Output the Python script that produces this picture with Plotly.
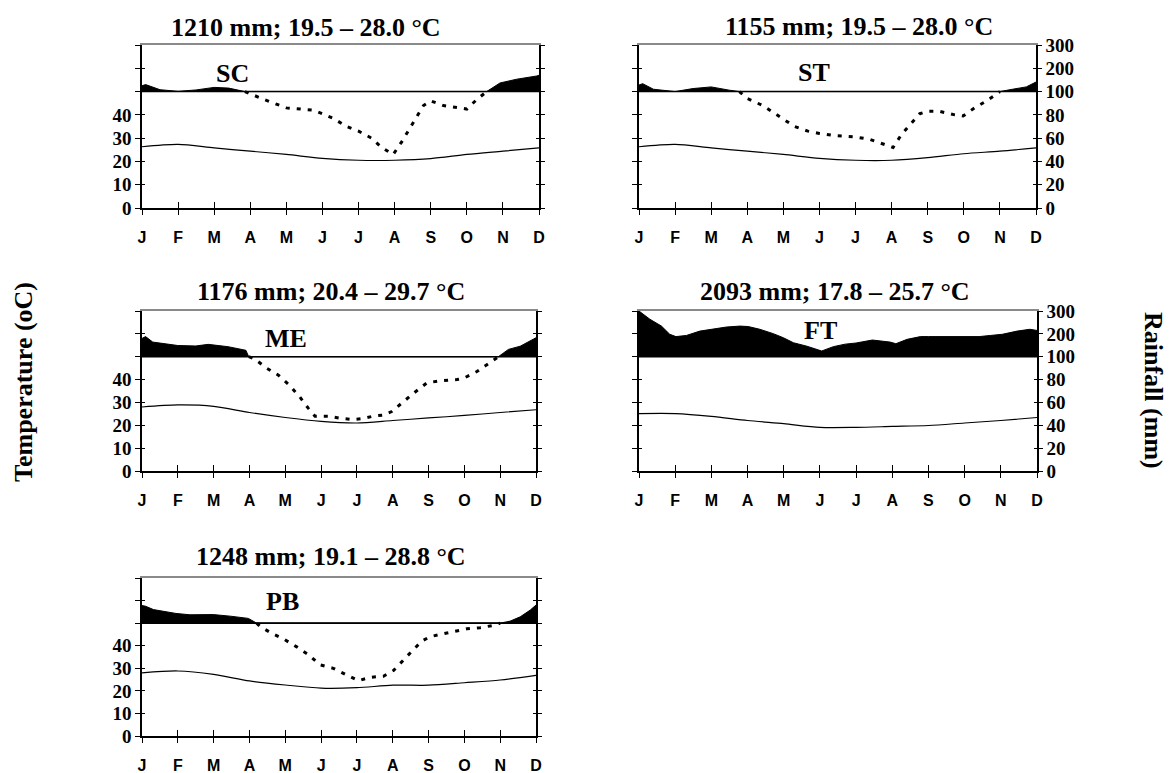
import plotly.graph_objects as go

W, H = 1170, 773

# ---------------- data ----------------
months = ["J", "F", "M", "A", "M", "J", "J", "A", "S", "O", "N", "D"]
month_pos = [0, 1, 2, 3, 4, 5, 6, 7, 8, 9, 10, 11]

stations = ["SC", "ST", "ME", "FT", "PB"]
titles = ["1210 mm; 19.5 – 28.0 °C", "1155 mm; 19.5 – 28.0 °C",
          "1176 mm; 20.4 – 29.7 °C", "2093 mm; 17.8 – 25.7 °C",
          "1248 mm; 19.1 – 28.8 °C"]

temp_tick_values = [0, 10, 20, 30, 40]
rain_tick_values = [0, 20, 40, 60, 80, 100, 200, 300]

# monthly mean temperature (°C)
sc_temp = [26.3, 27.3, 25.8, 24.4, 23.0, 21.3, 20.5, 20.5, 21.2, 23.0, 24.4, 25.8]
st_temp = [26.3, 27.3, 25.8, 24.4, 23.0, 21.3, 20.5, 20.5, 21.6, 23.3, 24.4, 25.8]
me_temp = [28.0, 28.9, 28.3, 25.6, 23.4, 21.7, 21.0, 22.1, 23.2, 24.3, 25.6, 26.8]
ft_temp = [25.1, 25.1, 23.9, 22.1, 20.7, 19.1, 19.1, 19.5, 19.9, 21.0, 22.1, 23.4]
pb_temp = [28.0, 28.8, 27.3, 24.4, 22.6, 21.2, 21.4, 22.5, 22.5, 23.6, 24.8, 26.9]

# rainfall (mm), read along the year (month index)
sc_rain_x = [0, 0.1, 0.5, 1.0, 1.5, 2.0, 2.4, 2.85, 3.0, 3.4, 4.0, 4.75, 5.0, 5.3, 5.67, 6.0,
             6.36, 6.64, 6.96, 7.2, 7.43, 7.63, 7.8, 8.0, 8.35, 8.8, 9.0, 9.27, 9.55, 9.92,
             10.38, 10.94, 11]
sc_rain_mm = [125, 130, 108, 101, 107, 118, 115, 100, 98, 93, 86, 84, 81, 77, 70, 66,
              60, 52, 46, 57, 69, 79, 88, 92, 88, 86, 85, 93, 100, 137,
              153, 167, 170]

st_rain_x = [0, 0.1, 0.4, 0.8, 1.0, 1.5, 2.0, 2.5, 2.78, 3.0, 3.43, 3.67, 4.0, 4.31, 4.68,
             5.0, 5.5, 6.0, 6.39, 6.76, 7.04, 7.27, 7.5, 7.78, 8.0, 8.33, 8.75, 8.98, 9.3,
             9.63, 10.0, 10.35, 10.73, 11]
st_rain_mm = [128, 134, 110, 102, 100, 113, 120, 106, 100, 94, 88, 83, 76, 70, 66,
              64, 62, 61, 59, 55, 52, 63, 71, 81, 83, 83, 80, 79, 86,
              92, 100, 110, 120, 141]

me_rain_x = [0, 0.1, 0.3, 0.7, 1.0, 1.5, 1.85, 2.4, 2.75, 2.9, 2.98, 3.15, 3.48, 3.8, 4.12,
             4.4, 4.64, 4.83, 5.2, 5.57, 5.9, 6.18, 6.46, 6.74, 6.97, 7.3, 7.58, 7.95, 8.32,
             8.79, 8.97, 9.35, 9.67, 9.95, 10.23, 10.56, 11]
me_rain_mm = [180, 188, 164, 154, 149, 147, 154, 144, 135, 128, 100, 98, 90, 84, 75,
              65, 55, 48, 48, 46, 45, 46, 48, 49, 52, 61, 68, 77, 79,
              80, 81, 87, 94, 100, 132, 146, 183]

ft_rain_x = [0, 0.3, 0.62, 0.85, 1.02, 1.31, 1.68, 1.96, 2.42, 2.79, 3.02, 3.34, 3.71, 3.99,
             4.27, 4.64, 5.05, 5.37, 5.7, 6.0, 6.45, 6.94, 7.1, 7.41, 7.78, 8.0, 8.6, 9.0,
             9.4, 9.71, 10.04, 10.45, 10.8, 11]
ft_rain_mm = [300, 264, 234, 198, 188, 193, 212, 220, 230, 234, 232, 220, 201, 183,
              161, 146, 125, 144, 155, 160, 173, 164, 157, 176, 188, 188, 188, 188,
              188, 193, 198, 212, 220, 215]

pb_rain_x = [0, 0.1, 0.32, 0.95, 1.34, 1.99, 2.46, 2.97, 3.2, 3.3, 3.62, 3.95, 4.32, 4.65,
             4.97, 5.34, 5.72, 6.04, 6.37, 6.74, 7.02, 7.25, 7.53, 7.81, 8.04, 8.32, 8.79,
             9.07, 9.44, 9.81, 10.0, 10.28, 10.56, 10.84, 11]
pb_rain_mm = [178, 175, 160, 143, 137, 138, 131, 121, 100, 97, 91, 86, 79, 72,
              63, 60, 54, 49, 52, 53, 58, 66, 75, 84, 88, 90, 93,
              95, 96, 98, 100, 109, 128, 158, 180]

temps = {"SC": sc_temp, "ST": st_temp, "ME": me_temp, "FT": ft_temp, "PB": pb_temp}
rains = {"SC": (sc_rain_x, sc_rain_mm), "ST": (st_rain_x, st_rain_mm),
         "ME": (me_rain_x, me_rain_mm), "FT": (ft_rain_x, ft_rain_mm),
         "PB": (pb_rain_x, pb_rain_mm)}


# Walter-Lieth rainfall scale: 20 mm = 10 °C up to 100 mm, compressed 1:10 above
def wl(r):
    return r / 2.0 if r <= 100 else 50.0 + (r - 100) / 10.0


# ---------------- layout geometry (pixels) ----------------
boxes = {  # left, right, top, bottom
    "SC": (142, 539, 45, 208),
    "ST": (639, 1036, 45, 208),
    "ME": (142, 536, 311, 471),
    "FT": (639, 1037, 311, 471),
    "PB": (142, 536, 578, 736),
}
title_pos = {"SC": (306, 27), "ST": (859, 26), "ME": (331, 291), "FT": (835, 291), "PB": (331, 556)}
label_pos = {"SC": (233, 73), "ST": (814, 72), "ME": (286, 338), "FT": (821, 330), "PB": (282, 601)}
left_labels = {"SC": True, "ST": False, "ME": True, "FT": False, "PB": True}

SERIF = "Liberation Serif"
SANS = "Liberation Sans"
Y_TOP = wl(300)

tickvals = [wl(r) for r in rain_tick_values]
left_text = [str(int(v)) if int(v) in temp_tick_values else "" for v in tickvals]
right_text = [str(r) for r in rain_tick_values]


def xn(n):
    return "x" if n == 1 else f"x{n}"


def yn(n):
    return "y" if n == 1 else f"y{n}"


def xk(n):
    return "xaxis" if n == 1 else f"xaxis{n}"


def yk(n):
    return "yaxis" if n == 1 else f"yaxis{n}"


fig = go.Figure()
lay = {}
annotations = []

for i, st in enumerate(stations):
    L, R, T, B = boxes[st]
    dx = [L / W, R / W]
    dy = [1 - B / H, 1 - T / H]
    xm, xi, xt = 3 * i + 1, 3 * i + 2, 3 * i + 3
    yl, yli, yr, yri = 4 * i + 1, 4 * i + 2, 4 * i + 3, 4 * i + 4

    rx, rmm = rains[st]
    base = [wl(100) for _ in rx]
    fill_top = [max(wl(r), wl(100)) for r in rmm]
    dry = [wl(r) if r <= 100 else None for r in rmm]

    fig.add_trace(go.Scatter(x=rx, y=base, mode="lines", line=dict(width=0, color="black"),
                             hoverinfo="skip", showlegend=False,
                             xaxis=xn(xm), yaxis=yn(yl)))
    fig.add_trace(go.Scatter(x=rx, y=fill_top, mode="lines", fill="tonexty",
                             fillcolor="black", line=dict(width=1, color="black"),
                             hoverinfo="skip", showlegend=False,
                             xaxis=xn(xm), yaxis=yn(yl)))
    fig.add_trace(go.Scatter(x=[month_pos[0], month_pos[-1]], y=[wl(100), wl(100)],
                             mode="lines", line=dict(width=1.6, color="black"),
                             hoverinfo="skip", showlegend=False,
                             xaxis=xn(xm), yaxis=yn(yl)))
    fig.add_trace(go.Scatter(x=rx, y=dry, mode="lines", connectgaps=False,
                             line=dict(width=3, color="black", dash="4px,7px"),
                             hoverinfo="skip", showlegend=False,
                             xaxis=xn(xm), yaxis=yn(yl)))
    fig.add_trace(go.Scatter(x=month_pos, y=temps[st], mode="lines",
                             line=dict(width=1.2, color="black", shape="spline", smoothing=0.8),
                             hoverinfo="skip", showlegend=False,
                             xaxis=xn(xm), yaxis=yn(yl)))
    # invisible companions so that the overlay axes (tick halves, border, right scale) are drawn
    for ax_x, ax_y in [(xi, yl), (xt, yl), (xm, yli), (xm, yr), (xm, yri)]:
        fig.add_trace(go.Scatter(x=month_pos, y=temps[st], mode="lines", opacity=0,
                                 line=dict(width=0, color="white"),
                                 hoverinfo="skip", showlegend=False,
                                 xaxis=xn(ax_x), yaxis=yn(ax_y)))

    common = dict(showgrid=False, zeroline=False, automargin=False)
    # bottom month axis
    lay[xk(xm)] = dict(domain=dx, anchor=yn(yl), range=[0, 11], tickmode="array",
                       tickvals=month_pos, ticktext=months, ticks="outside", ticklen=5,
                       tickwidth=1.3, tickcolor="black", showline=True, linecolor="black",
                       linewidth=1.5, ticklabelstandoff=9,
                       tickfont=dict(family=SANS, size=16, color="black", weight="bold"),
                       **common)
    # inside half of the bottom ticks
    lay[xk(xi)] = dict(domain=dx, anchor=yn(yl), overlaying=xn(xm), range=[0, 11],
                       tickmode="array", tickvals=month_pos, ticks="inside", ticklen=6,
                       tickwidth=1.3, tickcolor="black", showticklabels=False,
                       showline=False, **common)
    # thin grey top border
    lay[xk(xt)] = dict(domain=dx, anchor=yn(yl), overlaying=xn(xm), side="top",
                       range=[0, 11], ticks="", showticklabels=False, showline=True,
                       linecolor="#8a8a8a", linewidth=1.5, **common)
    # left temperature axis
    lay[yk(yl)] = dict(domain=dy, anchor=xn(xm), range=[0, Y_TOP], tickmode="array",
                       tickvals=tickvals,
                       ticktext=left_text if left_labels[st] else [""] * len(tickvals),
                       ticks="outside", ticklen=5, tickwidth=1.3, tickcolor="black",
                       showline=True, linecolor="black", linewidth=1.5,
                       ticklabelstandoff=0,
                       tickfont=dict(family=SERIF, size=19, color="black", weight="bold"),
                       **common)
    lay[yk(yli)] = dict(domain=dy, anchor=xn(xm), overlaying=yn(yl), range=[0, Y_TOP],
                        tickmode="array", tickvals=tickvals, ticks="inside", ticklen=3,
                        tickwidth=1.3, tickcolor="black", showticklabels=False,
                        showline=False, **common)
    # right rainfall axis
    lay[yk(yr)] = dict(domain=dy, anchor=xn(xm), overlaying=yn(yl), side="right",
                       range=[0, Y_TOP], tickmode="array", tickvals=tickvals,
                       ticktext=right_text if not left_labels[st] else [""] * len(tickvals),
                       ticks="outside", ticklen=4, tickwidth=1.3, tickcolor="black",
                       showline=True, linecolor="black", linewidth=1.5,
                       ticklabelstandoff=0,
                       tickfont=dict(family=SERIF, size=19, color="black", weight="bold"),
                       **common)
    lay[yk(yri)] = dict(domain=dy, anchor=xn(xm), overlaying=yn(yl), side="right",
                        range=[0, Y_TOP], tickmode="array", tickvals=tickvals,
                        ticks="inside", ticklen=3, tickwidth=1.3, tickcolor="black",
                        showticklabels=False, showline=False, **common)

    tx, ty = title_pos[st]
    annotations.append(dict(text=titles[i], x=tx / W, y=1 - ty / H, xref="paper",
                            yref="paper", xanchor="center", yanchor="middle",
                            showarrow=False,
                            font=dict(family=SERIF, size=26, color="black", weight="bold")))
    lx, ly = label_pos[st]
    annotations.append(dict(text=st, x=lx / W, y=1 - ly / H, xref="paper", yref="paper",
                            xanchor="center", yanchor="middle", showarrow=False,
                            font=dict(family=SERIF, size=26, color="black", weight="bold")))

annotations.append(dict(text="Temperature (oC)", x=24 / W, y=1 - 382 / H, xref="paper",
                        yref="paper", xanchor="center", yanchor="middle", textangle=-90,
                        showarrow=False,
                        font=dict(family=SERIF, size=26, color="black", weight="bold")))
annotations.append(dict(text="Rainfall (mm)", x=1153 / W, y=1 - 390 / H, xref="paper",
                        yref="paper", xanchor="center", yanchor="middle", textangle=90,
                        showarrow=False,
                        font=dict(family=SERIF, size=26, color="black", weight="bold")))

fig.update_layout(template="none", width=W, height=H, autosize=False,
                  margin=dict(l=0, r=0, t=0, b=0, pad=0, autoexpand=False),
                  paper_bgcolor="white", plot_bgcolor="white", showlegend=False,
                  annotations=annotations, **lay)

# remove the browser's default page margin so the figure sits at the window origin
fig.write_html("out.html", config={"displayModeBar": False},
               post_script="document.body.style.margin='0px';document.body.style.overflow='hidden';")
